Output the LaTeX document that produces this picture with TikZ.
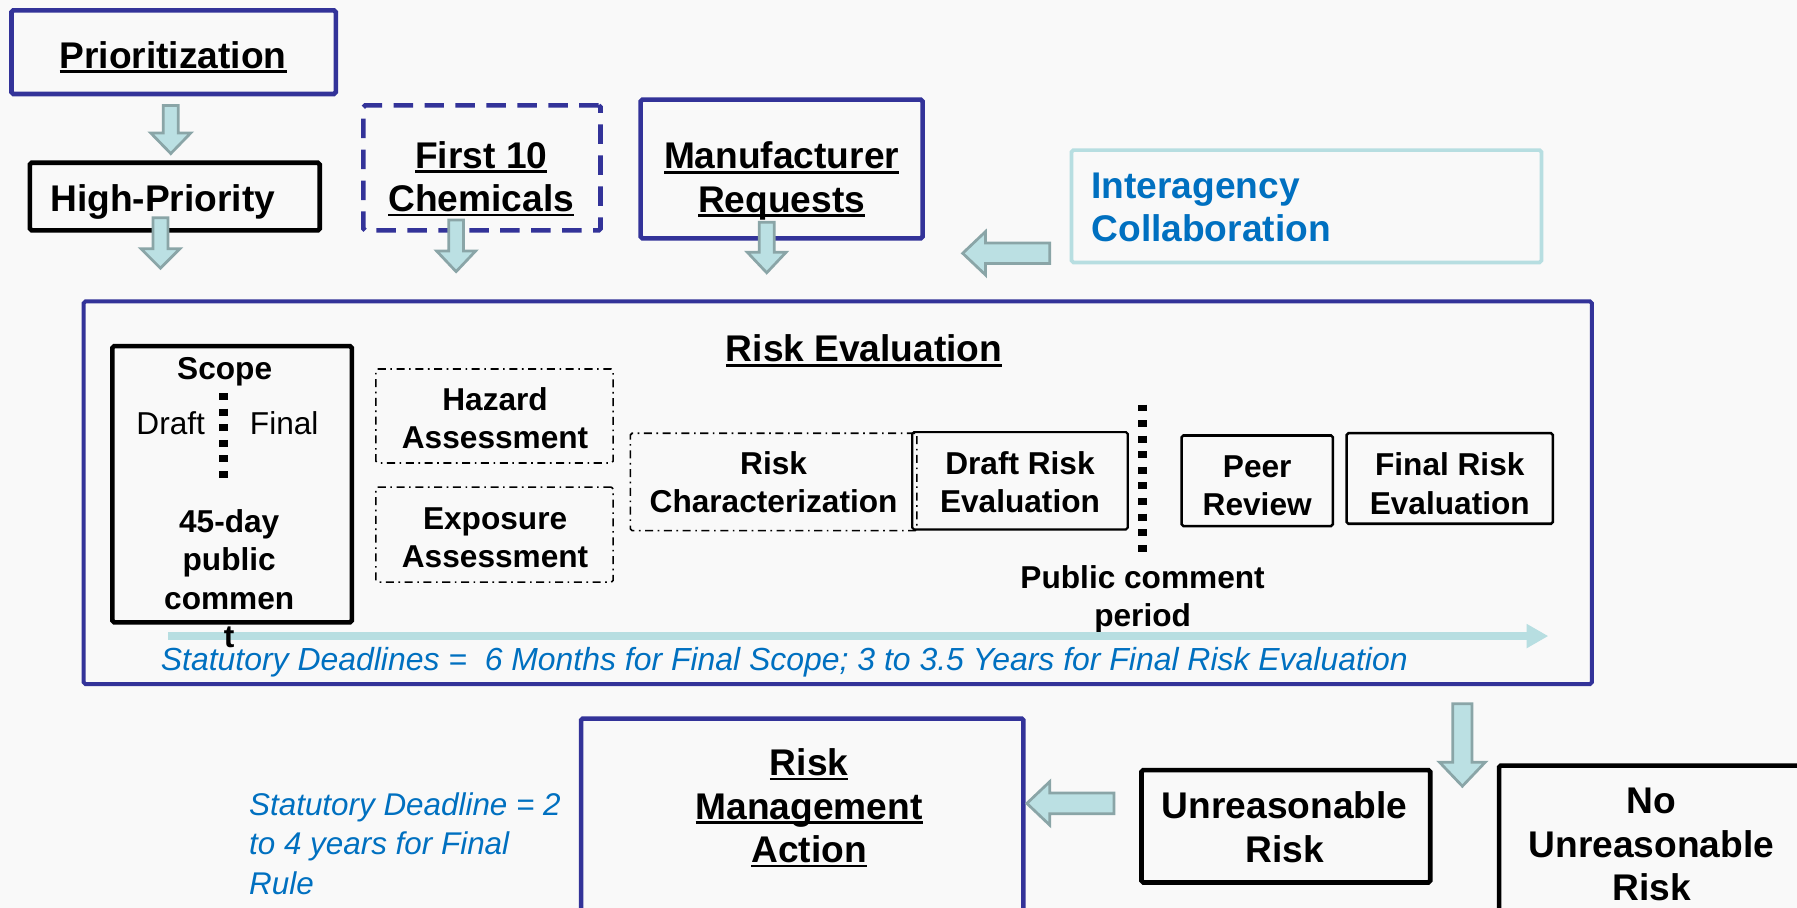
\documentclass[tikz,border=0pt]{standalone}
\usepackage{fontspec}
\setmainfont{Liberation Sans}
\usetikzlibrary{arrows.meta,fit}
\definecolor{bg}{RGB}{249,249,249}
\definecolor{navy}{RGB}{51,51,153}
\definecolor{txtblue}{RGB}{0,112,192}
\definecolor{lcyan}{RGB}{183,222,225}
\definecolor{afill}{RGB}{187,224,227}
\definecolor{aedge}{RGB}{138,165,167}
\newcommand\ulx[1]{\setbox0\hbox{#1}\rlap{\rule[-0.13em]{\wd0}{0.075em}}\box0}
% block arrow pointing down: x, ytop, ytip, shaft half, head half, head length
\newcommand\blkdown[6]{\draw[blk] ({#1-#4},#2) -- ({#1+#4},#2) -- ({#1+#4},{#3-#6}) -- ({#1+#5},{#3-#6}) -- (#1,#3) -- ({#1-#5},{#3-#6}) -- ({#1-#4},{#3-#6}) -- cycle;}
% block arrow pointing left: y, xtail, xtip, shaft half, head half, head length
\newcommand\blkleft[6]{\draw[blk] (#2,{#1-#4}) -- (#2,{#1+#4}) -- ({#3+#6},{#1+#4}) -- ({#3+#6},{#1+#5}) -- (#3,#1) -- ({#3+#6},{#1-#5}) -- ({#3+#6},{#1-#4}) -- cycle;}
\tikzset{
  big/.style={font=\fontsize{16.2}{19}\selectfont\bfseries, align=center, inner sep=0pt},
  small/.style={font=\fontsize{13.8}{16.7}\selectfont\bfseries, align=center, inner sep=0pt},
  smallreg/.style={font=\fontsize{13.8}{16.7}\selectfont, inner sep=0pt},
  note/.style={font=\fontsize{13.7}{17.2}\selectfont\itshape, text=txtblue, align=left, inner sep=0pt},
  frame/.style={inner sep=0pt, rounded corners=0.8pt},
  navybox/.style={frame, draw=navy, line width=2pt},
  blackbox/.style={frame, draw=black, line width=2pt},
  thinbox/.style={frame, draw=black, line width=0.9pt},
  dashdotbox/.style={frame, draw=black, line width=0.7pt, dash pattern=on 3.5pt off 2pt on 0.7pt off 2pt},
  blk/.style={fill=afill, draw=aedge, line width=1.2pt, line join=miter},
  sqdots/.style={draw=black, line width=4pt, dash pattern=on 3pt off 3.8pt},
}
\begin{document}
\begin{tikzpicture}[x=0.5pt, y=-0.5pt]
\useasboundingbox (0,0) rectangle (1568,792);
\fill[bg] (0,0) rectangle (1568,792);
\clip (0,0) rectangle (1568,792);

% top row boxes
\node[navybox, fit={(10,9)(293,82)}] (prio) {};
\node[big] (tprio) at (151,50) {\ulx{Prioritization}};
\node[blackbox, fit={(26,142)(279,201)}] (hp) {};
\node[big] (thp) at (142,176) {High-Priority};
\node[navybox, dash pattern=on 8.5pt off 5pt, fit={(317,92)(524,201)}] (f10) {};
\node[big] (tf10) at (420,156) {\ulx{First 10}\\\ulx{Chemicals}};
\node[navybox, fit={(559,87)(805,208)}] (man) {};
\node[big] (tman) at (682,158) {\ulx{Manufacturer}\\\ulx{Requests}};
\node[frame, draw=lcyan, line width=1.6pt, fit={(935,131)(1345,229)}] (inter) {};
\node[big, anchor=west, text=txtblue, align=left] (tinter) at (952,181) {Interagency\\Collaboration};

% arrows of top row
\blkdown{149}{92}{134}{6.5}{17.5}{18}
\blkdown{140}{190}{234}{6.5}{17}{17}
\blkdown{398}{192}{237}{6.5}{17}{18}
\blkdown{669}{194}{238}{6.5}{17}{18}
\blkleft{221}{916}{840}{9}{19}{20}

% risk evaluation frame
\node[navybox, line width=1.7pt, fit={(73,263)(1389,597)}] (re) {};
\node[big] (tre) at (754,306) {\ulx{Risk Evaluation}};

% scope
\node[blackbox, fit={(98,302)(307,543)}] (scope) {};
\node[small] (tscope) at (196,324) {Scope};
\node[smallreg] (tdraft) at (149,369) {Draft};
\node[smallreg] (tfinal) at (248,369) {Final};
\coordinate (sd1) at (195,343);
\coordinate (sd2) at (195,418);
\draw[sqdots] (sd1) -- (sd2);

% assessment boxes
\node[dashdotbox, fit={(328,322)(535,404)}] (haz) {};
\node[small] (thaz) at (432,365) {Hazard\\Assessment};
\node[dashdotbox, fit={(328,425)(535,508)}] (exp) {};
\node[small] (texp) at (432,469) {Exposure\\Assessment};
\node[dashdotbox, fit={(550,378)(800,463)}] (rc) {};
\node[small] (trc) at (675,421) {Risk\\Characterization};
\node[thinbox, fit={(796,377)(984,462)}] (dre) {};
\node[small] (tdre) at (890,421) {Draft Risk\\Evaluation};
\coordinate (pc1) at (997,353);
\coordinate (pc2) at (997,487);
\draw[sqdots] (pc1) -- (pc2);
\node[thinbox, line width=1.1pt, fit={(1031,380)(1163,459)}] (peer) {};
\node[small] (tpeer) at (1097,424) {Peer\\Review};
\node[thinbox, line width=1.1pt, fit={(1175,378)(1355,457)}] (fre) {};
\node[small] (tfre) at (1265,422) {Final Risk\\Evaluation};
\node[small] (tpc) at (997,523) {Public comment\\period};

% timeline
\coordinate (tl1) at (147,555);
\coordinate (tl2) at (1351,555);
\draw[lcyan, line width=3.6pt, -{Triangle[length=9.5pt,width=10pt]}] (tl1) -- (tl2);
\node[small] (t45) at (200,505) {45-day\\public\\commen\\t};
\node[note, font=\fontsize{13.93}{17.2}\selectfont\itshape, anchor=west] (tstat) at (140,578) {Statutory Deadlines =\ \ 6 Months for Final Scope; 3 to 3.5 Years for Final Risk Evaluation};

% bottom row
\blkdown{1276}{614}{686}{8.5}{20}{21}
\node[navybox, fit={(507,627)(893,830)}] (rma) {};
\node[big] (trma) at (706,705) {\ulx{Risk}\\\ulx{Management}\\\ulx{Action}};
\node[note, anchor=west] (tstat2) at (217,736) {Statutory Deadline = 2\\to 4 years for Final\\Rule};
\blkleft{701}{972}{896}{9}{19}{20}
\node[blackbox, fit={(996,672)(1248,770)}] (ur) {};
\node[big] (tur) at (1121,722) {Unreasonable\\Risk};
\node[blackbox, fit={(1308,668)(1600,830)}] (nur) {};
\node[big] (tnur) at (1441,737) {No\\Unreasonable\\Risk};
\end{tikzpicture}
\end{document}
